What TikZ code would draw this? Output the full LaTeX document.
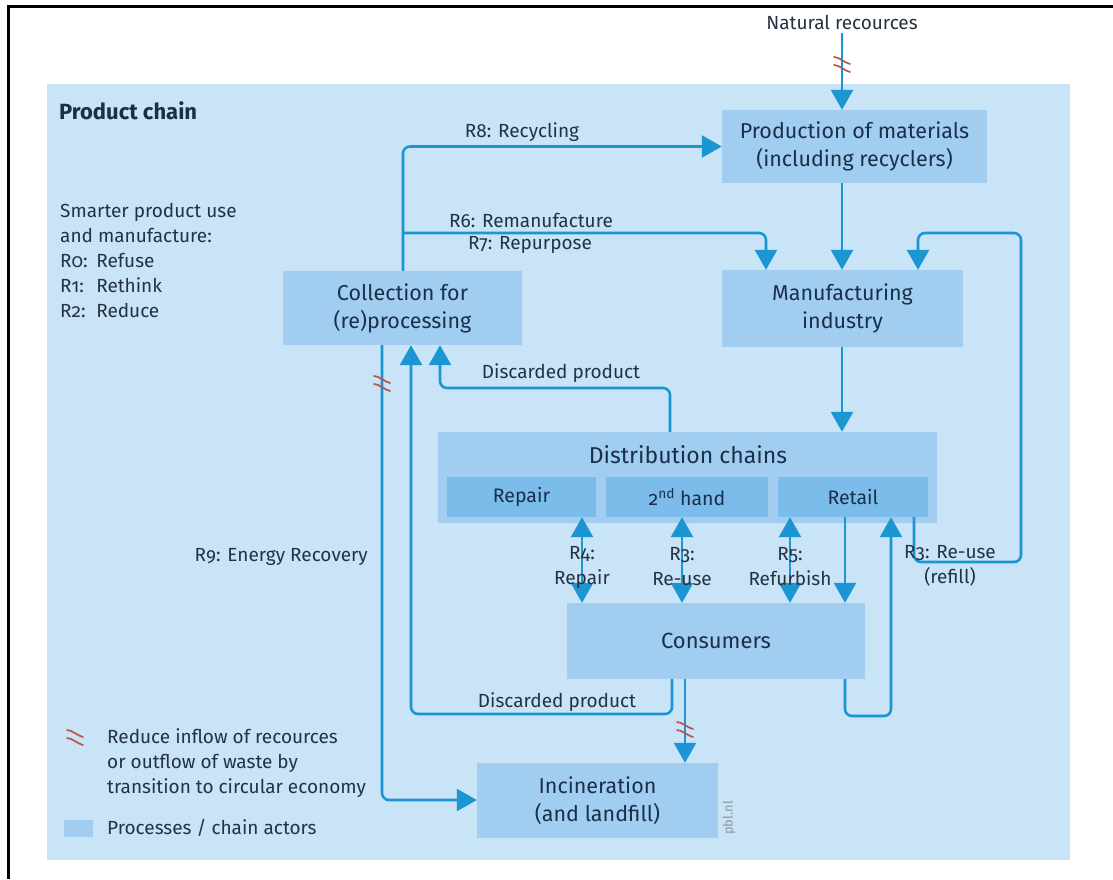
\documentclass[tikz,border=0pt]{standalone}
\usepackage{fontspec}
\setmainfont{Fira Sans}[Numbers=OldStyle]
\usetikzlibrary{arrows.meta}
\definecolor{panel}{HTML}{C9E3F7}
\definecolor{boxfill}{HTML}{A1CEF0}
\definecolor{subfill}{HTML}{7BBCEA}
\definecolor{flowcol}{HTML}{1B96D3}
\definecolor{ink}{HTML}{1A2F4A}
\definecolor{labelink}{HTML}{243343}
\definecolor{cutcol}{HTML}{B9544F}
% double stroke marking a flow that the circular economy reduces
\newcommand\cutmarkat[2]{%
  \begin{scope}[shift={(#1,#2)}]
    \draw[cutcol, line width=1.7pt, line cap=round]
      (-8,-8) .. controls (-3,-8) and (3,-2) .. (8,-1)
      (-8,0) .. controls (-3,0) and (3,6) .. (8,7);
  \end{scope}}
\begin{document}
\begin{tikzpicture}[x=1pt,y=-1pt,
  actor/.style={fill=boxfill, draw=none, inner sep=0pt, align=center, text=ink,
    font=\fontsize{21.5}{28}\selectfont},
  subbox/.style={fill=subfill, draw=none, inner sep=0pt, minimum height=40pt, text=ink,
    font=\fontsize{19.5}{24}\selectfont},
  lab/.style={text=labelink, inner sep=0pt, align=center, font=\fontsize{19}{25}\selectfont},
  flow/.style={draw=flowcol, line width=2.6pt, rounded corners=7pt, -{Triangle[width=22pt,length=20pt]}},
  dflow/.style={draw=flowcol, line width=2.6pt, {Triangle[width=22pt,length=20pt]}-{Triangle[width=22pt,length=20pt]}}
]
\useasboundingbox (0,0) rectangle (1113,879);
\fill[white] (0,0) rectangle (1113,879);
% outer frame
\draw[line width=3pt] (8,879) -- (8,6) -- (1113,6);
% product chain panel
\fill[panel] (47,84) rectangle (1070,860);
\node[anchor=west, inner sep=0pt, text=ink, font=\fontsize{22}{26}\selectfont\bfseries] (title) at (59,111) {Product chain};

% chain actors
\node[actor, minimum width=265pt, minimum height=73pt] (prod) at (854.5,146.5) {Production of materials\\(including recyclers)};
\node[actor, minimum width=241pt, minimum height=77pt] (manu) at (842.5,308.5) {Manufacturing\\industry};
\node[actor, minimum width=239pt, minimum height=74pt] (coll) at (402.5,308) {Collection for\\(re)processing};
\node[actor, minimum width=499pt, minimum height=91pt] (dist) at (687.5,477.5) {};
\node[inner sep=0pt, text=ink, font=\fontsize{23}{28}\selectfont] (distlabel) at (688,455) {Distribution chains};
\node[subbox, minimum width=149pt] (repair) at (521.5,497) {Repair};
\node[subbox, minimum width=162pt] (second) at (687,497) {2\textsuperscript{nd} hand};
\node[subbox, minimum width=150pt] (retail) at (853,497) {Retail};
\node[actor, minimum width=298pt, minimum height=76pt, font=\fontsize{22}{28}\selectfont] (cons) at (716,641) {Consumers};
\node[actor, minimum width=241pt, minimum height=75pt] (incin) at (597.5,800.5) {Incineration\\(and landfill)};
\node[rotate=90, inner sep=0pt, text=gray!75!panel, font=\fontsize{13}{15}\selectfont] (pbl) at (729,818) {pbl.nl};

% natural resources
\node[lab] (natsrc) at (842,22) {Natural recources};
\draw[flow] (natsrc.south) ++(0,4) -- (natsrc.south |- prod.north);
\cutmarkat{842}{65}

% waypoints
\coordinate (r8turn) at (403,146);
\coordinate (r6a) at (403,233);
\coordinate (r6b) at (766,233);
\coordinate (dd1) at (440,388);
\coordinate (dd2) at (670,388);
\coordinate (cd1) at (411,714);
\coordinate (cd2) at (672,714);
\coordinate (er) at (382,800);
\coordinate (wx) at (685,0);
\coordinate (lp1) at (845,716);
\coordinate (lp2) at (891,716);
\coordinate (rf1) at (914,562);
\coordinate (rf2) at (1021,562);
\coordinate (rf3) at (1021,233);
\coordinate (rf4) at (918,233);
\coordinate (a4) at (582,0);
\coordinate (a3) at (682,0);
\coordinate (a5) at (790,0);

% flows between actors
\draw[flow] (coll.north -| r8turn) |- (prod.west);
\draw[flow] (r6a) -| (manu.north -| r6b);
\draw[flow] (prod.south -| natsrc) -- (manu.north -| natsrc);
\draw[flow] (manu.south -| natsrc) -- (dist.north -| natsrc);
\draw[flow] (dist.north -| dd2) -- (dd2) -- (dd1) -- (coll.south -| dd1);
\draw[flow] (cons.south -| cd2) -- (cd2) -- (cd1) -- (coll.south -| cd1);
\draw[flow] (coll.south -| er) -- (er) -- (incin.west |- er);
\cutmarkat{382}{384}
\draw[flow] (cons.south -| wx) -- (incin.north -| wx);
\cutmarkat{685}{730}
\draw[dflow] (repair.south -| a4) -- (cons.north -| a4);
\draw[dflow] (second.south -| a3) -- (cons.north -| a3);
\draw[dflow] (retail.south -| a5) -- (cons.north -| a5);
\draw[flow] (retail.south -| lp1) -- (cons.north -| lp1);
\draw[flow] (cons.south -| lp1) -- (lp1) -- (lp2) -- (retail.south -| lp2);
\draw[flow] (retail.south -| rf1) -- (rf1) -- (rf2) -- (rf3) -- (rf4) -- (manu.north -| rf4);

% flow labels
\node[lab] (r8lab) at (522,132) {R8: Recycling};
\node[lab] (r6lab) at (531,220) {R6: Remanufacture};
\node[lab] (r7lab) at (530,245) {R7: Repurpose};
\node[lab] (dislab) at (561,373) {Discarded product};
\node[lab] (dislabb) at (557,702) {Discarded product};
\node[lab, anchor=east] (r9lab) at (368,557) {R9: Energy Recovery};
\node[lab] (r4lab) at (582,567) {R4:\\Repair};
\node[lab] (r3lab) at (682,567) {R3:\\Re-use};
\node[lab] (r5lab) at (790,567) {R5:\\Refurbish};
\node[lab] (refill) at (950,566) {R3: Re-use\\(refill)};

% strategies and legend
\node[lab, anchor=north west, align=left] (smart) at (60,203) {Smarter product use\\and manufacture:\\\makebox[1.9em][l]{R0:}Refuse\\\makebox[1.9em][l]{R1:}Rethink\\\makebox[1.9em][l]{R2:}Reduce};
\cutmarkat{75}{738}
\node[lab, anchor=north west, align=left] (legtxt) at (107,728) {Reduce inflow of recources\\or outflow of waste by\\transition to circular economy};
\node[fill=boxfill, inner sep=0pt, minimum width=29pt, minimum height=17pt] (swatch) at (78.5,828) {};
\node[lab, anchor=west] (legbox) at (107,828) {Processes / chain actors};
\end{tikzpicture}
\end{document}
